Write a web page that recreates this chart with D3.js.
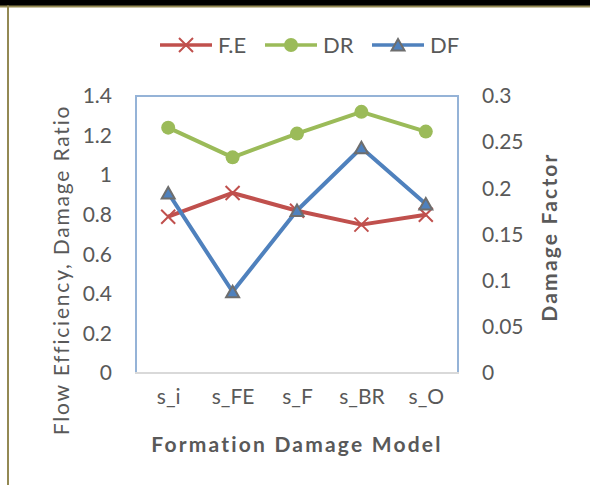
<!DOCTYPE html>
<html>
<head>
<meta charset="utf-8">
<script src="https://cdn.jsdelivr.net/npm/d3@7"></script>
<style>
  body { margin: 0; background: #fff; }
  text { font-family: Lato, "Open Sans", sans-serif; fill: #595959; }
</style>
</head>
<body>
<div id="chart"></div>
<script>
// chart data
var categories = ["s_i", "s_FE", "s_F", "s_BR", "s_O"];
var flowEff = [0.79, 0.91, 0.82, 0.75, 0.80];
var damageRatio = [1.24, 1.09, 1.21, 1.32, 1.22];
var damageFactor = [0.195, 0.088, 0.176, 0.244, 0.183];
var leftTicks = [0, 0.2, 0.4, 0.6, 0.8, 1, 1.2, 1.4];
var rightTicks = [0, 0.05, 0.1, 0.15, 0.2, 0.25, 0.3];

var width = 590, height = 485;
var plot = { left: 136, right: 458, top: 96, bottom: 373 };

var svg = d3.select('#chart').append('svg')
  .attr('width', width)
  .attr('height', height);

// frame: black strip on top, olive rule and left edge
svg.append('rect').attr('x', 0).attr('y', 0).attr('width', width).attr('height', 6).attr('fill', '#000');
svg.append('rect').attr('x', 0).attr('y', 5.5).attr('width', width).attr('height', 2).attr('fill', '#938953');
svg.append('rect').attr('x', 7).attr('y', 5.5).attr('width', 2).attr('height', height).attr('fill', '#938953');

var x = d3.scalePoint().domain(categories)
  .range([plot.left, plot.right]).padding(0.5);
var yL = d3.scaleLinear().domain([0, 1.4]).range([plot.bottom, plot.top]);
var yR = d3.scaleLinear().domain([0, 0.3]).range([plot.bottom, plot.top]);

// plot area border
svg.append('rect')
  .attr('x', plot.left).attr('y', plot.top)
  .attr('width', plot.right - plot.left).attr('height', plot.bottom - plot.top)
  .attr('fill', 'none').attr('stroke', '#95B3D7').attr('stroke-width', 2);

// axes
var axL = svg.append('g').attr('transform', 'translate(' + plot.left + ',0)')
  .call(d3.axisLeft(yL).tickValues(leftTicks).tickSize(0).tickPadding(24).tickFormat(d3.format('~g')));
var axR = svg.append('g').attr('transform', 'translate(' + plot.right + ',0)')
  .call(d3.axisRight(yR).tickValues(rightTicks).tickSize(0).tickPadding(24).tickFormat(d3.format('~g')));
var axB = svg.append('g').attr('transform', 'translate(0,' + plot.bottom + ')')
  .call(d3.axisBottom(x).tickSize(0).tickPadding(16));

[axL, axR, axB].forEach(function(g){
  g.select('.domain').attr('stroke', 'none');
  g.selectAll('.tick text')
    .attr('font-size', 21)
    .attr('font-family', 'Lato, sans-serif')
    .attr('fill', '#595959');
});
svg.append('line')
  .attr('x1', plot.left - 1).attr('x2', plot.right + 1)
  .attr('y1', plot.bottom).attr('y2', plot.bottom)
  .attr('stroke', '#D9D9D9').attr('stroke-width', 2);

// axis titles
svg.append('text')
  .attr('transform', 'translate(69,270) rotate(-90)')
  .attr('text-anchor', 'middle')
  .attr('font-size', 21)
  .attr('letter-spacing', 1.8)
  .text('Flow Efficiency, Damage Ratio');
svg.append('text')
  .attr('transform', 'translate(557,237) rotate(-90)')
  .attr('text-anchor', 'middle')
  .attr('font-size', 21)
  .attr('font-weight', 'bold')
  .attr('letter-spacing', 2.2)
  .text('Damage Factor');
svg.append('text')
  .attr('x', (plot.left + plot.right) / 2)
  .attr('y', 452)
  .attr('text-anchor', 'middle')
  .attr('font-size', 21)
  .attr('font-weight', 'bold')
  .attr('letter-spacing', 2.2)
  .text('Formation Damage Model');

// series
var series = [
  { name: 'F.E', values: flowEff, y: yL, color: '#C0504D', marker: 'x' },
  { name: 'DR', values: damageRatio, y: yL, color: '#9BBB59', marker: 'circle' },
  { name: 'DF', values: damageFactor, y: yR, color: '#4F81BD', marker: 'triangle' }
];

function drawMarker(g, type, color) {
  if (type === 'x') {
    g.append('path').attr('d', 'M-7,-7L7,7M-7,7L7,-7')
      .attr('stroke', color).attr('stroke-width', 2).attr('fill', 'none');
  } else if (type === 'circle') {
    g.append('circle').attr('r', 7).attr('fill', color);
  } else {
    g.append('path').attr('d', 'M0,-6L6.5,5.5L-6.5,5.5Z')
      .attr('fill', color).attr('stroke', '#6E6E6E').attr('stroke-width', 2)
      .attr('stroke-linejoin', 'miter');
  }
}

var line = d3.line();
series.forEach(function(s){
  var pts = s.values.map(function(v, i){ return [x(categories[i]), s.y(v)]; });
  var g = svg.append('g').attr('class', 'series');
  g.append('path').attr('d', line(pts))
    .attr('fill', 'none').attr('stroke', s.color).attr('stroke-width', 4)
    .attr('stroke-linejoin', 'round');
  pts.forEach(function(p){
    drawMarker(g.append('g').attr('transform', 'translate(' + p[0] + ',' + p[1] + ')'), s.marker, s.color);
  });
});

// legend
var legendX = [160, 265, 372];
series.forEach(function(s, i){
  var lg = svg.append('g').attr('transform', 'translate(' + legendX[i] + ',45)');
  lg.append('line').attr('x1', 0).attr('x2', 52).attr('y1', 0).attr('y2', 0)
    .attr('stroke', s.color).attr('stroke-width', 3.5);
  drawMarker(lg.append('g').attr('transform', 'translate(26,0)'), s.marker, s.color);
  lg.append('text').attr('x', 58).attr('y', 8)
    .attr('font-size', 22)
    .text(s.name);
});
</script>
</body>
</html>
